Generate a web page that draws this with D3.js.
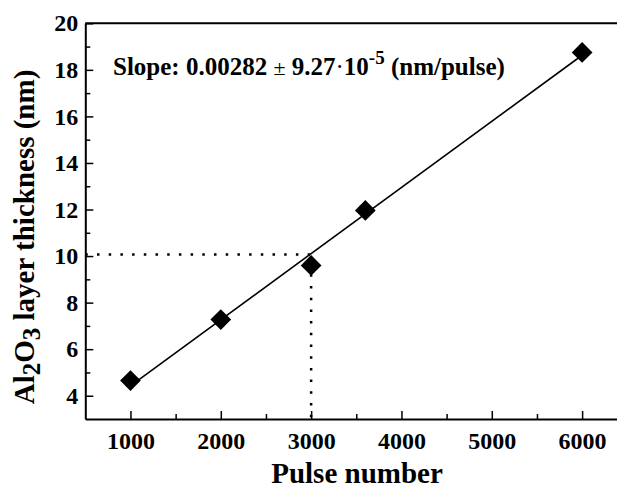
<!DOCTYPE html>
<html>
<head>
<meta charset="utf-8">
<script src="https://cdn.jsdelivr.net/npm/d3@7"></script>
<style>
  body { margin: 0; background: #fff; overflow: hidden; }
  svg { display: block; }
  text { font-family: "Liberation Serif", "Times New Roman", serif; font-weight: bold; fill: #000; }
</style>
</head>
<body>
<div id="chart"></div>
<script>
// data
const pulses = [1000, 2000, 3000, 3600, 6000];
const thickness = [4.65, 7.27, 9.6, 11.96, 18.75];
const xTicks = [1000, 2000, 3000, 4000, 5000, 6000];
const yTicks = [4, 6, 8, 10, 12, 14, 16, 18, 20];
const markPulse = 3000;
const markThickness = 10.07;

const width = 617, height = 490;
const plotLeft = 85.3, plotTop = 23.3, plotBottom = 419;

const svg = d3.select("#chart").append("svg")
    .attr("width", width)
    .attr("height", height);

const x = d3.scaleLinear().domain([500, 6500]).range([plotLeft, plotLeft + 6000 * 0.09033]);
const y = d3.scaleLinear().domain([3, 20]).range([plotBottom, plotTop]);

// least squares fit of the points
const mx = d3.mean(pulses), my = d3.mean(thickness);
let sxy = 0, sxx = 0;
pulses.forEach((p, i) => { sxy += (p - mx) * (thickness[i] - my); sxx += (p - mx) ** 2; });
const slope = sxy / sxx, icpt = my - slope * mx;

// frame top (right side runs off the picture)
svg.append("line")
    .attr("x1", plotLeft).attr("x2", width)
    .attr("y1", y(20)).attr("y2", y(20))
    .attr("stroke", "#000").attr("stroke-width", 2);

// minor ticks
svg.append("g")
    .attr("transform", `translate(0,${plotBottom})`)
    .call(d3.axisBottom(x).tickValues(d3.range(1500, 6500, 1000)).tickSize(-5).tickFormat(""))
    .call(g => g.select(".domain").remove())
    .selectAll("line").attr("stroke-width", 1.5);
svg.append("g")
    .attr("transform", `translate(${plotLeft},0)`)
    .call(d3.axisLeft(y).tickValues(d3.range(5, 20, 2)).tickSize(-5).tickFormat(""))
    .call(g => g.select(".domain").remove())
    .selectAll("line").attr("stroke-width", 1.5);

// major axes
const xAxis = svg.append("g")
    .attr("transform", `translate(0,${plotBottom})`)
    .call(d3.axisBottom(x).tickValues(xTicks).tickFormat(d3.format("d"))
        .tickSize(-8).tickSizeOuter(0).tickPadding(13));
const yAxis = svg.append("g")
    .attr("transform", `translate(${plotLeft},0)`)
    .call(d3.axisLeft(y).tickValues(yTicks).tickFormat(d3.format("d"))
        .tickSize(-8).tickSizeOuter(0).tickPadding(7));

[xAxis, yAxis].forEach(g => {
    g.select(".domain").attr("stroke-width", 2);
    g.selectAll(".tick line").attr("stroke-width", 1.5);
    g.selectAll(".tick text")
        .style("font-family", '"Liberation Serif", serif')
        .style("font-weight", "bold")
        .style("font-size", "24px")
        .attr("fill", "#000");
});

// dotted guide lines
svg.append("path")
    .attr("d", d3.line()([[x(500), y(markThickness)], [x(markPulse), y(markThickness)], [x(markPulse), y(3)]]))
    .attr("fill", "none")
    .attr("stroke", "#000")
    .attr("stroke-width", 2.5)
    .attr("stroke-dasharray", "2.5,9.2");

// fit line
svg.append("path")
    .attr("d", d3.line()([[x(1000), y(icpt + slope * 1000)], [x(6000), y(icpt + slope * 6000)]]))
    .attr("fill", "none")
    .attr("stroke", "#000")
    .attr("stroke-width", 1.6);

// diamond markers
const diamond = d3.symbol().type(d3.symbolSquare).size(215);
svg.selectAll("path.pt")
    .data(pulses)
    .enter()
    .append("path")
    .attr("class", "pt")
    .attr("d", diamond)
    .attr("transform", (d, i) => `translate(${x(d)},${y(thickness[i])}) rotate(45)`)
    .attr("fill", "#000");

// slope annotation
const note = svg.append("text")
    .attr("x", 113).attr("y", 75)
    .style("font-size", "25px");
note.append("tspan").text("Slope: 0.00282 ");
note.append("tspan").style("font-weight", "normal").style("font-size", "22px").text("±");
note.append("tspan").text(" 9.27");
note.append("tspan").style("font-weight", "normal").text("·");
note.append("tspan").text("10");
note.append("tspan").attr("dy", -11).style("font-size", "19px").text("-5");
note.append("tspan").attr("dy", 11).text(" (nm/pulse)");

// axis titles
svg.append("text")
    .attr("x", 357).attr("y", 483)
    .attr("text-anchor", "middle")
    .style("font-size", "29px")
    .text("Pulse number");

const yt = svg.append("text")
    .attr("transform", "translate(34,237) rotate(-90)")
    .attr("text-anchor", "middle")
    .style("font-size", "29px");
yt.append("tspan").text("Al");
yt.append("tspan").attr("dy", 6).style("font-size", "25px").text("2");
yt.append("tspan").attr("dy", -6).text("O");
yt.append("tspan").attr("dy", 6).style("font-size", "25px").text("3");
yt.append("tspan").attr("dy", -6).text(" layer thickness (nm)");
</script>
</body>
</html>
